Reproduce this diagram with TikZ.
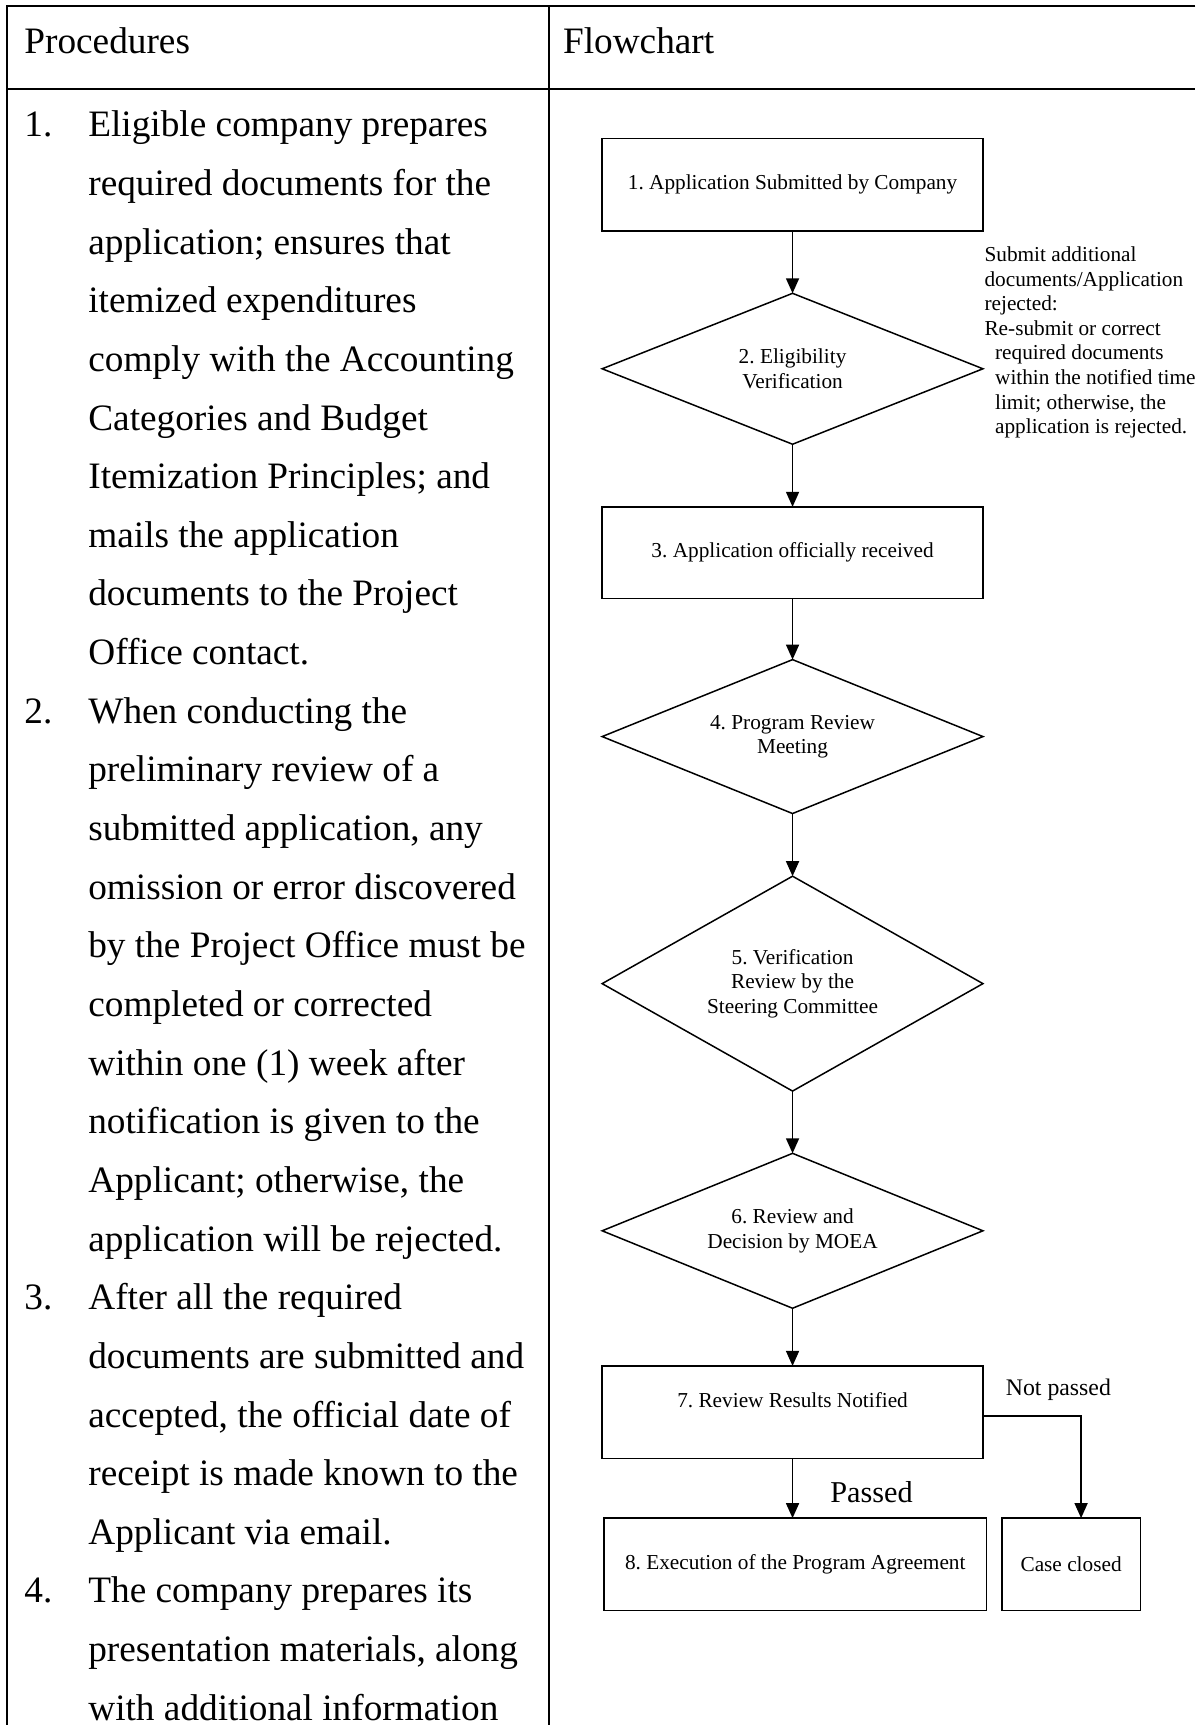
\documentclass[tikz,border=0pt]{standalone}
\usepackage{fontspec}
\setmainfont{Liberation Serif}
\frenchspacing
\usetikzlibrary{shapes.geometric,arrows.meta}

\begin{document}
\begin{tikzpicture}[x=0.5pt, y=-0.5pt,
	bodytext/.style={anchor=base west, inner sep=0, font=\fontsize{18.65}{22}\selectfont},
	notetext/.style={anchor=base west, inner sep=0, font=\fontsize{10.65}{12.3}\selectfont},
	flowtext/.style={font=\fontsize{10.65}{12.2}\selectfont, align=center},
	flowbox/.style={draw, line width=0.75pt, rectangle, minimum width=190.5pt, minimum height=46.3pt, inner sep=0, outer sep=0, flowtext},
	flowdiamond/.style={draw, line width=0.75pt, diamond, aspect=2, minimum width=190.5pt, inner sep=0, outer sep=0, flowtext},
	flowarrow/.style={line width=0.75pt, -{Triangle[length=7.5pt, width=6.5pt]}}]
	\path[fill=white] (0,0) rectangle (1196,1726);

	\draw[line width=1pt] (1196,6) -- (7,6) -- (7,1726);
	\draw[line width=1pt] (7,89) -- (1196,89);
	\draw[line width=1pt] (549,6) -- (549,1726);

	\node[bodytext] (prochead) at (24, 54) {Procedures};
	\node[bodytext] (flowhead) at (563, 54) {Flowchart};

	\node[bodytext] (num1) at (24, 136.9) {1.};
	\node[bodytext] (num2) at (24, 723.7) {2.};
	\node[bodytext] (num3) at (24, 1310.5) {3.};
	\node[bodytext] (num4) at (24, 1603.9) {4.};
	\foreach \linetext [count=\k from 0] in {Eligible company prepares, required documents for the, application; ensures that, itemized expenditures, comply with the Accounting, Categories and Budget, Itemization Principles; and, mails the application, documents to the Project, Office contact., When conducting the, preliminary review of a, {submitted application, any}, omission or error discovered, by the Project Office must be, completed or corrected, within one (1) week after, notification is given to the, {Applicant; otherwise, the}, application will be rejected., After all the required, documents are submitted and, {accepted, the official date of}, receipt is made known to the, Applicant via email., The company prepares its, {presentation materials, along}, with additional information}
		\node[bodytext] (line\k) at (88, {136.9+58.68*\k}) {\linetext};

	\node[flowbox] (apply) at (793, 184.75) {1. Application Submitted by Company};
	\node[flowdiamond, minimum height=75.5pt] (eligible) at (793, 369) {2. Eligibility\\Verification};
	\node[flowbox, minimum height=45.85pt] (received) at (793, 553) {3. Application officially received};
	\node[flowdiamond, minimum height=77pt] (meeting) at (793, 737) {4. Program Review\\Meeting};
	\node[flowdiamond, minimum height=107.5pt] (steering) at (793, 984.2) {5. Verification\\Review by the\\Steering Committee};
	\node[flowdiamond, minimum height=77.5pt] (moea) at (793, 1231.5) {6. Review and\\Decision by MOEA};
	\node[flowbox] (notified) at (793, 1413) {7. Review Results Notified\\\mbox{}};
	\node[flowbox, minimum width=191.3pt] (agreement) at (795.7, 1565.3) {8. Execution of the Program Agreement};
	\node[flowbox, minimum width=69.3pt] (closed) at (1071.7, 1565.3) {Case closed};

	\draw[flowarrow] (apply.south) -- (eligible.north);
	\draw[flowarrow] (eligible.south) -- (received.north);
	\draw[flowarrow] (received.south) -- (meeting.north);
	\draw[flowarrow] (meeting.south) -- (steering.north);
	\draw[flowarrow] (steering.south) -- (moea.north);
	\draw[flowarrow] (moea.south) -- (notified.north);
	\draw[flowarrow] (notified.south) -- (notified.south |- agreement.north);
	\draw[flowarrow] ([yshift=-2pt]notified.east) -| ([xshift=5pt]closed.north);

	\node[font=\fontsize{15.15}{18}\selectfont] (passed) at (872, 1493) {Passed};
	\node[font=\fontsize{11.9}{14}\selectfont] (notpassed) at (1059, 1390.7) {Not passed};

	\foreach \notepart [count=\k from 0] in {Submit additional, documents/Application, rejected:, Re-submit or correct, \hspace*{5.3pt}required documents, \hspace*{5.3pt}within the notified time, {\hspace*{5.3pt}limit; otherwise, the}, \hspace*{5.3pt}application is rejected.}
		\node[notetext] (note\k) at (984.7, {261.7+24.6*\k}) {\notepart};
\end{tikzpicture}
\end{document}
